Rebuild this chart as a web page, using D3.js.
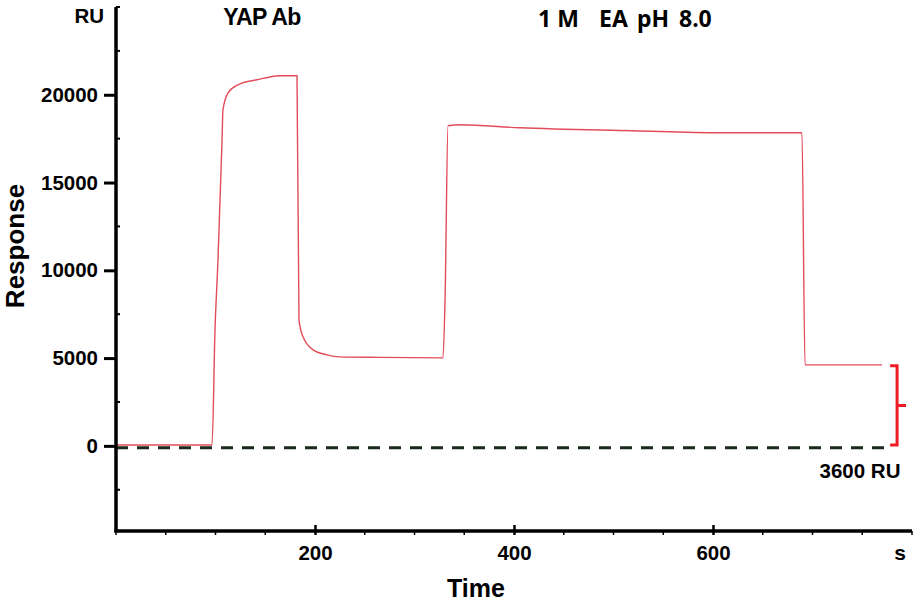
<!DOCTYPE html>
<html>
<head>
<meta charset="utf-8">
<script src="https://cdn.jsdelivr.net/npm/d3@7"></script>
<style>
  html, body { margin: 0; padding: 0; background: #fff; }
  svg { display: block; }
  text { font-family: "Liberation Sans", Arial, sans-serif; font-weight: bold; fill: #000; }
</style>
</head>
<body>
<svg id="chart" width="916" height="604"></svg>
<script>
// ---- data ----
const timeS = [0, 96.5, 99.5, 102.5, 106.5, 107.5, 112.6, 122.6, 141.7, 164.8, 181.9,
               183.9, 188, 198, 212, 225, 265, 328.6, 330.7, 333.7, 345.7, 406, 519.6,
               607, 689.4, 692.5, 769.8];
const responseRU = [50, 50, 6610, 10600, 17265, 19145, 20114, 20570, 20855, 21083, 21083,
                    7180, 6211, 5470, 5185, 5071, 5040, 5014, 8319, 18234, 18290, 18120, 17949,
                    17835, 17835, 4615, 4615];
const baselineT = [0, 773];
const baselineRU = [-110, -110];
const bracketT = [778, 785, 794];          // arm start, spine, middle tick end
const bracketRU = [4560, 50];              // top, bottom
const yMajorTicks = [0, 5000, 10000, 15000, 20000];
const yMinorTicks = [-2500, 2500, 7500, 12500, 17500, 22500, 25000];
const xMajorTicks = [200, 400, 600];
const xMinorTicks = [0, 50, 100, 150, 250, 300, 350, 450, 500, 550, 650, 700, 750, 800];
const yDomain = [-4850, 25000];
const xDomain = [0, 800];
const labels = {
  yUnit: "RU", xUnit: "s", yTitle: "Response", xTitle: "Time",
  inject1: "YAP Ab", annot: "3600 RU"
};
const inject2Parts = ["1 M", "EA", "pH", "8.0"];

// ---- drawing ----
const svg = d3.select("#chart");
const x = d3.scaleLinear().domain(xDomain).range([116, 912]);
const y = d3.scaleLinear().domain(yDomain).range([531, 7]);

// baseline dashed
svg.append("path")
  .datum(baselineT.map((t, i) => [t, baselineRU[i]]))
  .attr("d", d3.line().x(d => x(d[0])).y(d => y(d[1])))
  .attr("fill", "none").attr("stroke", "#1a2a1a")
  .attr("stroke-width", 3).attr("stroke-dasharray", "12,9");

// sensorgram
svg.append("path")
  .datum(timeS.map((t, i) => [t, responseRU[i]]))
  .attr("d", d3.line().x(d => x(d[0])).y(d => y(d[1])).curve(d3.curveMonotoneX))
  .attr("fill", "none").attr("stroke", "#e24c5a").attr("stroke-width", 1.4);

// bracket
const bx0 = x(bracketT[0]), bx1 = x(bracketT[1]), bx2 = x(bracketT[2]);
const byT = y(bracketRU[0]), byB = y(bracketRU[1]);
svg.append("path")
  .attr("d", `M${bx0},${byT}H${bx1}V${byB}H${bx0}M${bx1},${(byT + byB) / 2}H${bx2}`)
  .attr("fill", "none").attr("stroke", "#ee1c25").attr("stroke-width", 3);

// y axis
const yAxis = svg.append("g").attr("transform", `translate(${x(0)},0)`)
  .call(d3.axisLeft(y).tickValues(yMajorTicks).tickSize(12).tickPadding(6)
        .tickFormat(d3.format("d")));
yAxis.select(".domain").remove();
yAxis.selectAll(".tick line").attr("stroke", "#000").attr("stroke-width", 3);
yAxis.selectAll(".tick text").style("font-size", "20.5px").attr("fill", "#000")
  .attr("font-family", null);
svg.append("g").selectAll("line").data(yMinorTicks).join("line")
  .attr("x1", x(0)).attr("x2", x(0) + 4)
  .attr("y1", d => y(d)).attr("y2", d => y(d))
  .attr("stroke", "#000").attr("stroke-width", 2);

// x axis
const xAxis = svg.append("g").attr("transform", `translate(0,${y(yDomain[0])})`)
  .call(d3.axisBottom(x).tickValues(xMajorTicks).tickSizeInner(-7).tickSizeOuter(0).tickPadding(14)
        .tickFormat(d3.format("d")));
xAxis.select(".domain").remove();
xAxis.selectAll(".tick line").attr("stroke", "#000").attr("stroke-width", 2.5).attr("y2", -6).attr("y1", 4);
xAxis.selectAll(".tick text").style("font-size", "20.5px").attr("fill", "#000")
  .attr("font-family", null);
svg.append("g").selectAll("line").data(xMinorTicks).join("line")
  .attr("x1", d => x(d)).attr("x2", d => x(d))
  .attr("y1", y(yDomain[0])).attr("y2", y(yDomain[0]) + 4)
  .attr("stroke", "#000").attr("stroke-width", 1.5);

// axis lines
svg.append("line").attr("x1", x(0)).attr("x2", x(0)).attr("y1", y(yDomain[1])).attr("y2", y(yDomain[0]) + 1.5)
  .attr("stroke", "#000").attr("stroke-width", 3.5);
svg.append("line").attr("x1", x(0) - 1.5).attr("x2", x(xDomain[1])).attr("y1", y(yDomain[0])).attr("y2", y(yDomain[0]))
  .attr("stroke", "#000").attr("stroke-width", 3.5);

// texts
svg.append("text").attr("x", 104).attr("y", 23).attr("text-anchor", "end")
  .style("font-size", "20.5px").text(labels.yUnit);
svg.append("text").attr("x", 900).attr("y", 560).attr("text-anchor", "middle")
  .style("font-size", "21px").text(labels.xUnit);
svg.append("text").attr("transform", "translate(24,246) rotate(-90)").attr("text-anchor", "middle")
  .style("font-size", "26px").text(labels.yTitle);
svg.append("text").attr("x", 476).attr("y", 597).attr("text-anchor", "middle")
  .style("font-size", "25px").text(labels.xTitle);
svg.append("text").attr("x", 262).attr("y", 25).attr("text-anchor", "middle")
  .style("font-size", "23px").style("letter-spacing", "-0.6px").text(labels.inject1);
svg.append("text").attr("x", 860).attr("y", 478).attr("text-anchor", "middle")
  .style("font-size", "20.5px").text(labels.annot);
const i2x = [538, 599, 637, 679];
inject2Parts.forEach((s, i) => {
  svg.append("text").attr("x", i2x[i]).attr("y", 27)
    .style("font-family", "'Noto Sans', sans-serif").style("font-size", "23px").text(s);
});
</script>
</body>
</html>
